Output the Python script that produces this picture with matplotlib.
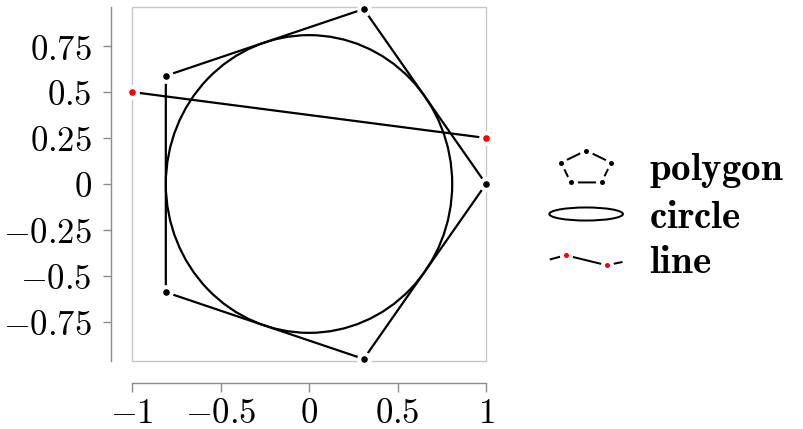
import numpy as np
import matplotlib
matplotlib.use("Agg")
import matplotlib.pyplot as plt
from matplotlib.patches import Circle, Rectangle, Ellipse
from matplotlib.lines import Line2D
from matplotlib.legend_handler import HandlerBase

plt.rcParams['mathtext.fontset'] = 'cm'
plt.rcParams['font.family'] = 'serif'
plt.rcParams['font.serif'] = ['DejaVu Serif']

# ---- data ----
polygon_x = [1.0, 0.309, -0.809, -0.809, 0.309]
polygon_y = [0.0, 0.951, 0.588, -0.588, -0.951]
circle_center = (0.0, 0.0)
circle_radius = 0.809
line_x = [-1.0, 1.0]
line_y = [0.5, 0.25]
xticks = [-1, -0.5, 0, 0.5, 1]
xtick_labels = ['$-1$', '$-0.5$', '$0$', '$0.5$', '$1$']
yticks = [-0.75, -0.5, -0.25, 0, 0.25, 0.5, 0.75]
ytick_labels = ['$-0.75$', '$-0.5$', '$-0.25$', '$0$', '$0.25$', '$0.5$', '$0.75$']
legend_labels = [r'$\mathbf{polygon}$', r'$\mathbf{circle}$', r'$\mathbf{line}$']

FS = 25
LFS = 28
LW = 1.6
MS = 7.7
MEW = 2.9
SPINE = '#8c8c8c'
FRAME = '#c8c8c8'

fig = plt.figure(figsize=(8.04, 4.29), dpi=100)
ax = fig.add_axes([0.1642, 0.1585, 0.4403, 0.8252])
ax.set_xlim(-1, 1)
ax.set_ylim(-0.962, 0.962)

ax.add_patch(Rectangle((0, 0), 1, 1, transform=ax.transAxes, fill=False,
                       ec=FRAME, lw=1.0, zorder=0.5, clip_on=False))

ax.add_patch(Circle(circle_center, circle_radius, fill=False, ec='black', lw=LW, zorder=2))

px = polygon_x + polygon_x[:1]
py = polygon_y + polygon_y[:1]
ax.plot(px, py, color='black', lw=LW, zorder=3, clip_on=False)
ax.plot(polygon_x, polygon_y, ls='none', marker='o', ms=MS, mfc='black', mec='white',
        mew=MEW, zorder=4, clip_on=False)
ax.plot(line_x, line_y, color='black', lw=LW, zorder=3, clip_on=False)
ax.plot(line_x, line_y, ls='none', marker='o', ms=MS, mfc='red', mec='white',
        mew=MEW, zorder=4, clip_on=False)

for s in ['top', 'right']:
    ax.spines[s].set_visible(False)
ax.spines['left'].set_position(('outward', 15))
ax.spines['bottom'].set_position(('outward', 16))
for s in ['left', 'bottom']:
    ax.spines[s].set_color(SPINE)
    ax.spines[s].set_linewidth(1.0)
ax.set_xticks(xticks)
ax.set_xticklabels(xtick_labels)
ax.set_yticks(yticks)
ax.set_yticklabels(ytick_labels)
ax.tick_params(axis='both', colors=SPINE, labelcolor='black', labelsize=FS, width=1.0)
ax.tick_params(axis='y', length=5.8, pad=8)
ax.tick_params(axis='x', length=6.5, pad=2.5)


# ---- legend handlers ----
class PentagonHandler(HandlerBase):
    def create_artists(self, legend, orig_handle, xdescent, ydescent, width, height,
                       fontsize, trans):
        cx = -xdescent + width / 2
        cy = -ydescent + height / 2
        ang = np.deg2rad(90 + 72 * np.arange(6))
        xs = cx + 18.9 * np.cos(ang)
        ys = cy + 12.7 * np.sin(ang) - 1.5
        ln = Line2D(xs, ys, color='black', lw=LW * 0.9)
        mk = Line2D(xs[:5], ys[:5], ls='none', marker='o', ms=MS * 0.85, mfc='black',
                    mec='white', mew=MEW)
        ln.set_transform(trans)
        mk.set_transform(trans)
        return [ln, mk]


class EllipseHandler(HandlerBase):
    def create_artists(self, legend, orig_handle, xdescent, ydescent, width, height,
                       fontsize, trans):
        cx = -xdescent + width / 2
        cy = -ydescent + height / 2
        e = Ellipse((cx, cy), 53, 9.4, fill=False, ec='black', lw=LW * 0.9)
        e.set_transform(trans)
        return [e]


class LineHandler(HandlerBase):
    def create_artists(self, legend, orig_handle, xdescent, ydescent, width, height,
                       fontsize, trans):
        cx = -xdescent + width / 2
        cy = -ydescent + height / 2
        xs = cx + np.array([-25.5, -14.7, 14.8, 25.5])
        ys = cy + np.array([0.5, 3.4, -3.8, -1.6])
        ln = Line2D(xs, ys, color='black', lw=LW * 0.9)
        mk = Line2D(xs[1:3], ys[1:3], ls='none', marker='o', ms=MS * 0.85, mfc='red',
                    mec='white', mew=MEW)
        ln.set_transform(trans)
        mk.set_transform(trans)
        return [ln, mk]


h_poly = Line2D([], [])
h_circ = Line2D([], [])
h_line = Line2D([], [])
fig.legend([h_poly, h_circ, h_line], legend_labels,
           handler_map={h_poly: PentagonHandler(), h_circ: EllipseHandler(),
                        h_line: LineHandler()},
           loc='center left', bbox_to_anchor=(0.6816, 0.4965), frameon=False,
           fontsize=LFS, handlelength=1.96, handleheight=0.82, handletextpad=0.64,
           labelspacing=0.23, borderpad=0, borderaxespad=0)

fig.savefig('out.png', dpi=100)
